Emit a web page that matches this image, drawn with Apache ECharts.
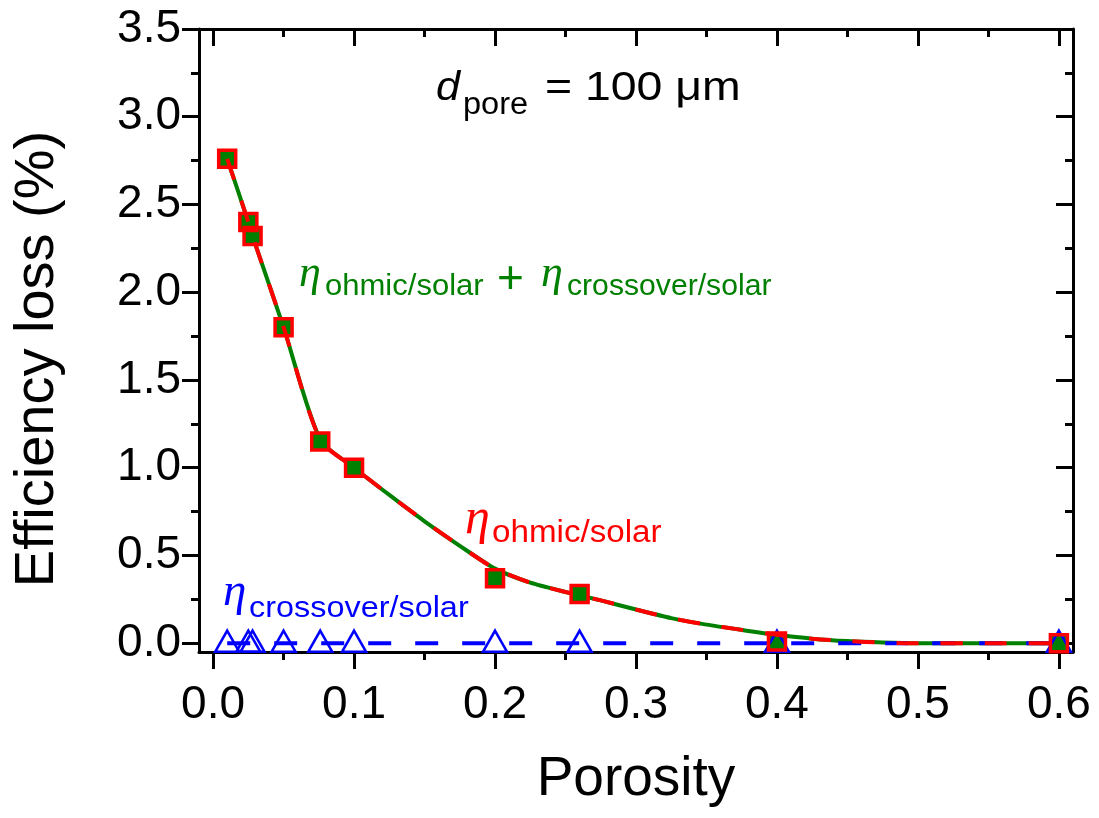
<!DOCTYPE html>
<html>
<head>
<meta charset="utf-8">
<script src="https://cdn.jsdelivr.net/npm/echarts@6/dist/echarts.min.js"></script>
<style>
  html, body { margin: 0; padding: 0; background: #fff; }
  #chart { width: 1099px; height: 818px; }
</style>
</head>
<body>
<div id="chart"></div>
<script>
// Measured points
const porosity      = [0.01, 0.025, 0.028, 0.05, 0.076, 0.10, 0.20, 0.26, 0.40, 0.60];
const ohmicLoss     = [2.76, 2.40, 2.32, 1.80, 1.15, 1.00, 0.37, 0.28, 0.01, 0.00];
const totalLoss     = [2.76, 2.40, 2.32, 1.80, 1.15, 1.00, 0.37, 0.28, 0.01, 0.00];
const crossoverLoss = [0.00, 0.00, 0.00, 0.00, 0.00, 0.00, 0.00, 0.00, 0.00, 0.00];

// Fitted curves (ohmic and ohmic + crossover coincide)
const fitPorosity = [0.01, 0.025, 0.028, 0.05, 0.076, 0.10, 0.125, 0.15, 0.175, 0.20, 0.225, 0.25, 0.275, 0.30, 0.325, 0.35, 0.375, 0.40, 0.425, 0.45, 0.475, 0.50, 0.55, 0.60];
const fitOhmic    = [2.76, 2.40, 2.32, 1.80, 1.16, 1.00, 0.845, 0.695, 0.555, 0.425, 0.345, 0.292, 0.244, 0.192, 0.143, 0.106, 0.076, 0.048, 0.026, 0.012, 0.004, 0.000, 0.000, 0.000];
const fitTotal    = [2.76, 2.40, 2.32, 1.80, 1.16, 1.00, 0.845, 0.695, 0.555, 0.425, 0.345, 0.292, 0.244, 0.192, 0.143, 0.106, 0.076, 0.048, 0.026, 0.012, 0.004, 0.000, 0.000, 0.000];

// Axis ticks
const xTicks      = [0, 0.1, 0.2, 0.3, 0.4, 0.5, 0.6];
const xMinorTicks = [0.05, 0.15, 0.25, 0.35, 0.45, 0.55];
const yTicks      = [0, 0.5, 1.0, 1.5, 2.0, 2.5, 3.0, 3.5];
const yMinorTicks = [0.25, 0.75, 1.25, 1.75, 2.25, 2.75, 3.25];

const X_MIN = -0.01, X_MAX = 0.61, Y_MIN = -0.05, Y_MAX = 3.5;
const SANS = '"Liberation Sans", Arial, sans-serif';
const SERIF = '"Liberation Serif", "Times New Roman", serif';
const GREEN = '#008000', RED = '#ff0000', BLUE = '#0000ff';

const zip = (xs, ys) => xs.map((x, i) => [x, ys[i]]);

function xAxisDef(pos, ticks, len, inside, showLine, showLabels) {
  return {
    type: 'value', position: pos, min: X_MIN, max: X_MAX,
    axisLine: { show: showLine, onZero: false, lineStyle: { color: '#000', width: 3 } },
    axisTick: { show: true, inside: inside, length: len, customValues: ticks, lineStyle: { color: '#000', width: 3 } },
    axisLabel: showLabels ? {
      show: true, customValues: ticks, margin: 30,
      formatter: v => v.toFixed(1), color: '#000', fontSize: 46, fontFamily: SANS
    } : { show: false },
    splitLine: { show: false }
  };
}
function yAxisDef(pos, ticks, len, inside, showLine, showLabels) {
  return {
    type: 'value', position: pos, min: Y_MIN, max: Y_MAX,
    axisLine: { show: showLine, onZero: false, lineStyle: { color: '#000', width: 3 } },
    axisTick: { show: true, inside: inside, length: len, customValues: ticks, lineStyle: { color: '#000', width: 3 } },
    axisLabel: showLabels ? {
      show: true, customValues: ticks, margin: 18,
      formatter: v => v.toFixed(1), color: '#000', fontSize: 46, fontFamily: SANS
    } : { show: false },
    splitLine: { show: false }
  };
}

const xAxes = [
  xAxisDef('bottom', xTicks, 17, false, true, true),
  xAxisDef('bottom', xMinorTicks, 8, false, false, false),
  xAxisDef('top', xTicks, 17, true, true, false),
  xAxisDef('top', xMinorTicks, 8, true, false, false)
];
Object.assign(xAxes[0], {
  name: 'Porosity', nameLocation: 'middle', nameGap: 100,
  nameTextStyle: { color: '#000', fontSize: 55, fontFamily: SANS }
});
const yAxes = [
  yAxisDef('left', yTicks, 17, false, true, true),
  yAxisDef('left', yMinorTicks, 8, false, false, false),
  yAxisDef('right', yTicks, 17, true, true, false),
  yAxisDef('right', yMinorTicks, 8, true, false, false)
];
Object.assign(yAxes[0], {
  name: 'Efficiency loss (%)', nameLocation: 'middle', nameGap: 133,
  nameTextStyle: { color: '#000', fontSize: 56, fontFamily: SANS, padding: [0, 37, 0, 0] }
});

// Free text placed by left edge and baseline
function txt(str, left, baseline, size, color, opt) {
  opt = opt || {};
  const family = opt.serif ? SERIF : SANS;
  const font = (opt.italic ? 'italic ' : '') + (opt.bold ? 'bold ' : '') + size + 'px ' + family;
  return {
    type: 'text', x: left, y: baseline - 0.31 * size, scaleX: opt.sx || 1, z: 100,
    style: { text: str, font: font, fill: color, textAlign: 'left', textVerticalAlign: 'middle' }
  };
}

const annotations = [
  txt('d', 436, 101, 40, '#000', { italic: true, sx: 1.08 }),
  txt('pore', 463, 115, 31, '#000', { sx: 1.05 }),
  txt('= 100 \u03bcm', 545, 101, 40, '#000', { sx: 1.16 }),

  txt('\u03b7', 299, 288, 44, GREEN, { italic: true, serif: true }),
  txt('ohmic/solar', 325, 296, 29, GREEN, { sx: 1.07 }),
  txt('+', 497, 295, 46, GREEN, {}),
  txt('\u03b7', 541, 288, 44, GREEN, { italic: true, serif: true }),
  txt('crossover/solar', 567, 296, 29, GREEN, { sx: 1.04 }),

  txt('\u03b7', 465, 535, 50, RED, { italic: true, serif: true }),
  txt('ohmic/solar', 492, 543, 31, RED, { sx: 1.07 }),

  txt('\u03b7', 223, 607, 47, BLUE, { italic: true, serif: true }),
  txt('crossover/solar', 249, 618, 30, BLUE, { sx: 1.08 })
];

const chart = echarts.init(document.getElementById('chart'), null, { renderer: 'canvas' });
chart.setOption({
  backgroundColor: '#fff',
  animation: false,
  grid: { left: 199, right: 26, top: 29, bottom: 166, containLabel: false },
  xAxis: xAxes,
  yAxis: yAxes,
  graphic: annotations,
  series: [
    { // ohmic + crossover fit
      type: 'line', data: zip(fitPorosity, fitTotal), smooth: 0.25,
      showSymbol: false, lineStyle: { color: GREEN, width: 4 }, z: 2
    },
    { // ohmic + crossover points
      type: 'scatter', data: zip(porosity, totalLoss), symbol: 'rect', symbolSize: 16,
      itemStyle: { color: GREEN, opacity: 1 }, z: 3
    },
    { // crossover
      type: 'line', data: zip(porosity, crossoverLoss), symbol: 'triangle', symbolSize: [24, 21],
      symbolOffset: [0, -2], showAllSymbol: true,
      lineStyle: { color: BLUE, width: 4, type: [23, 24] },
      itemStyle: { color: 'rgba(0,0,0,0)', borderColor: BLUE, borderWidth: 2.5, opacity: 1 }, z: 4
    },
    { // ohmic fit
      type: 'line', data: zip(fitPorosity, fitOhmic), smooth: 0.25,
      showSymbol: false, lineStyle: { color: RED, width: 4, type: [22, 22] }, z: 5
    },
    { // ohmic points
      type: 'scatter', data: zip(porosity, ohmicLoss), symbol: 'rect', symbolSize: 17,
      itemStyle: { color: 'rgba(0,0,0,0)', borderColor: RED, borderWidth: 3.5, opacity: 1 }, z: 6
    }
  ]
});
</script>
</body>
</html>
